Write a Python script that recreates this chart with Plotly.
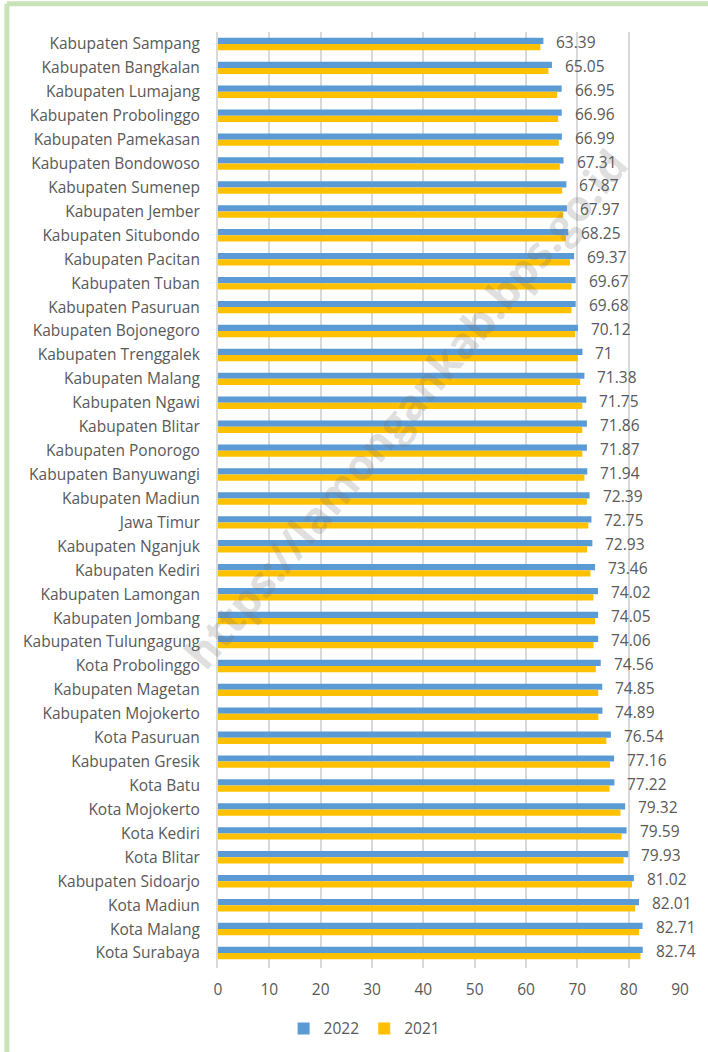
import plotly.graph_objects as go

categories = [
    "Kabupaten Sampang", "Kabupaten Bangkalan", "Kabupaten Lumajang", "Kabupaten Probolinggo",
    "Kabupaten Pamekasan", "Kabupaten Bondowoso", "Kabupaten Sumenep", "Kabupaten Jember",
    "Kabupaten Situbondo", "Kabupaten Pacitan", "Kabupaten Tuban", "Kabupaten Pasuruan",
    "Kabupaten Bojonegoro", "Kabupaten Trenggalek", "Kabupaten Malang", "Kabupaten Ngawi",
    "Kabupaten Blitar", "Kabupaten Ponorogo", "Kabupaten Banyuwangi", "Kabupaten Madiun",
    "Jawa Timur", "Kabupaten Nganjuk", "Kabupaten Kediri", "Kabupaten Lamongan",
    "Kabupaten Jombang", "Kabupaten Tulungagung", "Kota Probolinggo", "Kabupaten Magetan",
    "Kabupaten Mojokerto", "Kota Pasuruan", "Kabupaten Gresik", "Kota Batu",
    "Kota Mojokerto", "Kota Kediri", "Kota Blitar", "Kabupaten Sidoarjo",
    "Kota Madiun", "Kota Malang", "Kota Surabaya",
]

values_2022 = [
    63.39, 65.05, 66.95, 66.96, 66.99, 67.31, 67.87, 67.97, 68.25, 69.37,
    69.67, 69.68, 70.12, 71.00, 71.38, 71.75, 71.86, 71.87, 71.94, 72.39,
    72.75, 72.93, 73.46, 74.02, 74.05, 74.06, 74.56, 74.85, 74.89, 76.54,
    77.16, 77.22, 79.32, 79.59, 79.93, 81.02, 82.01, 82.71, 82.74,
]

values_2021 = [
    62.80, 64.36, 66.07, 66.26, 66.40, 66.59, 67.04, 67.26, 67.78, 68.57,
    68.88, 68.87, 69.59, 70.04, 70.55, 70.97, 70.96, 70.97, 71.38, 71.85,
    72.14, 71.90, 72.55, 73.12, 73.44, 73.16, 73.60, 74.08, 74.10, 75.65,
    76.37, 76.27, 78.40, 78.62, 79.01, 80.65, 81.25, 82.04, 82.31,
]

x_ticks = [0, 10, 20, 30, 40, 50, 60, 70, 80, 90]

TEXT = "#595959"
FONT = "Open Sans"
FS = 15.5

fig = go.Figure()
fig.add_trace(go.Bar(
    y=categories, x=values_2022, orientation="h", name="2022",
    marker=dict(color="#5B9BD5", line=dict(width=0)),
))
fig.add_trace(go.Bar(
    y=categories, x=values_2021, orientation="h", name="2021",
    marker=dict(color="#FFC000", line=dict(width=0)),
))

for c, v in zip(categories, values_2022):
    fig.add_annotation(
        x=v, y=c, xref="x", yref="y", text=f"{v:g}", showarrow=False,
        xanchor="left", yanchor="middle", xshift=11, yshift=2,
        font=dict(family=FONT, size=FS, color=TEXT),
    )

# watermark
fig.add_annotation(
    x=0.405, y=0.598, xref="paper", yref="paper",
    text="<b>https://lamongankab.bps.go.id</b>", showarrow=False,
    textangle=-50, font=dict(family=FONT, size=43, color="rgba(110,110,110,0.24)"),
    xanchor="center", yanchor="middle",
)

# green frame (top / left edges of the chart border)
fig.add_shape(type="line", xref="paper", yref="paper",
              x0=-0.457, x1=1.3, y0=1.0303, y1=1.0303,
              line=dict(color="#C9E3B8", width=5), layer="below")
fig.add_shape(type="line", xref="paper", yref="paper",
              x0=-0.457, x1=-0.457, y0=-0.2, y1=1.0303,
              line=dict(color="#C9E3B8", width=5), layer="below")

fig.update_layout(
    width=708, height=1052,
    margin=dict(l=218, r=28, t=32, b=84, pad=0, autoexpand=False),
    paper_bgcolor="white", plot_bgcolor="white",
    barmode="group", bargap=0.48, bargroupgap=0,
    font=dict(family=FONT, size=FS, color=TEXT),
    showlegend=True,
    legend=dict(
        orientation="h", xref="container", yref="container",
        x=0.515, y=0.022, xanchor="center", yanchor="middle",
        font=dict(family=FONT, size=FS, color=TEXT), itemwidth=30,
        traceorder="normal",
    ),
    xaxis=dict(
        range=[0, 90], tickvals=x_ticks, ticktext=[str(t) for t in x_ticks],
        showgrid=True, gridcolor="#D9D9D9", gridwidth=1.5,
        zeroline=False, showline=False, ticks="", ticklabelstandoff=10,
        tickfont=dict(family=FONT, size=FS, color=TEXT), fixedrange=True,
    ),
    yaxis=dict(
        autorange="reversed", showgrid=False, zeroline=False,
        showline=True, linecolor="#D9D9D9", linewidth=2,
        ticks="", ticklabelstandoff=13,
        tickfont=dict(family=FONT, size=FS, color=TEXT), fixedrange=True,
    ),
)

fig.write_html(
    "out.html",
    config={"displayModeBar": False},
    post_script="document.body.style.margin='0';document.body.style.overflow='hidden';",
)
